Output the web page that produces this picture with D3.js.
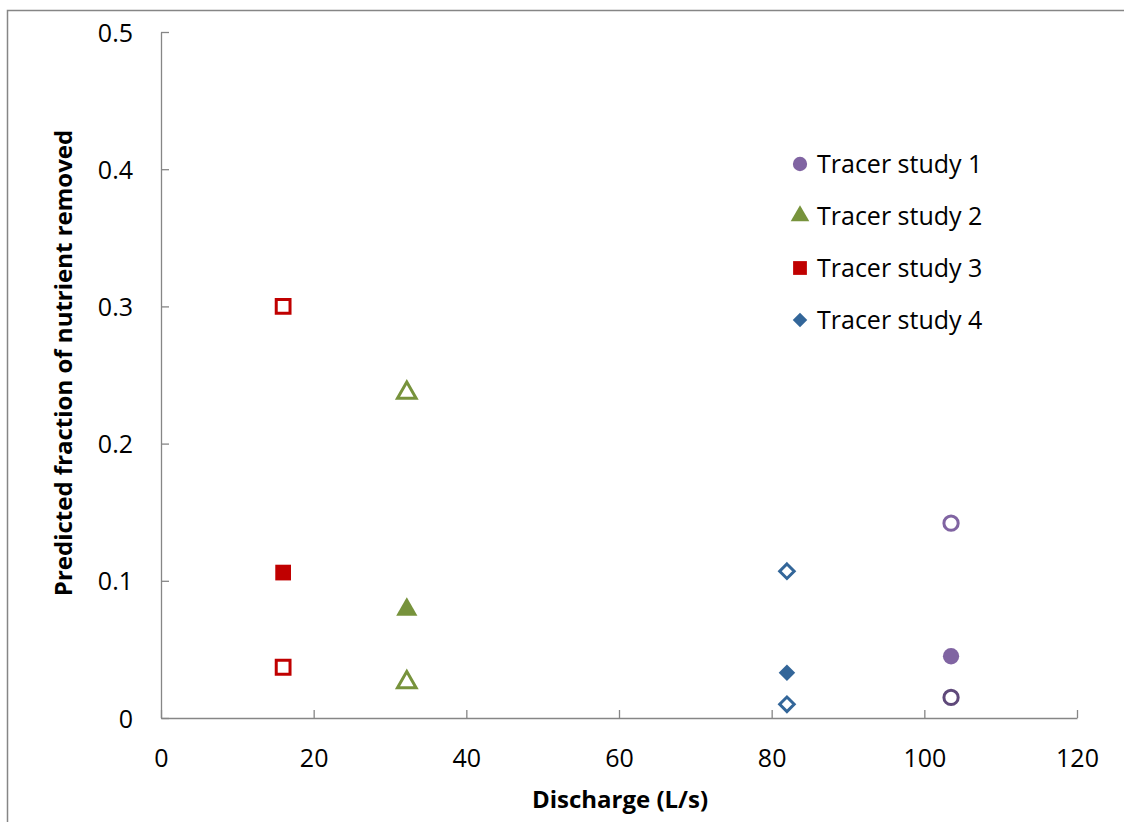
<!DOCTYPE html>
<html>
<head>
<meta charset="utf-8">
<script src="https://cdn.jsdelivr.net/npm/d3@7"></script>
<style>
  html, body { margin: 0; padding: 0; background: #fff; }
  svg { display: block; }
  text { font-family: "Open Sans", "Noto Sans", sans-serif; fill: #000; }
</style>
</head>
<body>
<svg id="chart" width="1124" height="822"></svg>
<script>
// Tracer studies: discharge (L/s) and predicted fraction removed.
// Each study has one filled estimate and two open (bounding) estimates.
const studies = ["Tracer study 1", "Tracer study 2", "Tracer study 3", "Tracer study 4"];
const discharge = [103.5, 32.2, 16.0, 82.0];
const filledValues = [0.045, 0.079, 0.106, 0.033];
const openValues = [[0.142, 0.015], [0.237, 0.026], [0.300, 0.037], [0.107, 0.010]];
const xTicks = [0, 20, 40, 60, 80, 100, 120];
const yTicks = [0, 0.1, 0.2, 0.3, 0.4, 0.5];

const colors = ["#8064A2", "#77933C", "#C00000", "#336699"];
const openLowColors = ["#5F497A", "#77933C", "#C00000", "#336699"];

// Square turned 45 degrees (diamond with equal diagonals)
const symbolRhombus = {
  draw(ctx, size) {
    const r = Math.sqrt(size / 2);
    ctx.moveTo(0, -r); ctx.lineTo(r, 0); ctx.lineTo(0, r); ctx.lineTo(-r, 0); ctx.closePath();
  }
};
const symbols = [d3.symbolCircle, d3.symbolTriangle, d3.symbolSquare, symbolRhombus];
const sizes = [160, 150, 190, 105];

const svg = d3.select("#chart");
const W = 1124, H = 822;
const plot = { left: 161, right: 1077, top: 32, bottom: 718 };

// Outer frame (left and top edges visible)
svg.append("path")
  .attr("d", `M7.5,${H} L7.5,10.5 L${W},10.5`)
  .attr("fill", "none").attr("stroke", "#868686").attr("stroke-width", 1.5);

const x = d3.scaleLinear().domain([0, 120]).range([plot.left, plot.right]);
const y = d3.scaleLinear().domain([0, 0.5]).range([plot.bottom, plot.top]);

// X axis with inward ticks
const xAxis = svg.append("g")
  .attr("transform", `translate(0,${plot.bottom})`)
  .call(d3.axisBottom(x).tickValues(xTicks).tickSizeInner(-8).tickSizeOuter(0)
    .tickFormat(d3.format("d")));
xAxis.select(".domain").attr("stroke", "#868686").attr("stroke-width", 1.3);
xAxis.selectAll(".tick line").attr("stroke", "#868686").attr("stroke-width", 1.3);
xAxis.selectAll(".tick text")
  .attr("y", 49).attr("dy", 0)
  .style("font-size", "25px").style("font-family", "'Open Sans', sans-serif");

// Y axis with inward ticks
const yAxis = svg.append("g")
  .attr("transform", `translate(${plot.left},0)`)
  .call(d3.axisLeft(y).tickValues(yTicks).tickSizeInner(-8).tickSizeOuter(0)
    .tickFormat(d => d === 0 ? "0" : d3.format(".1f")(d)));
yAxis.select(".domain").attr("stroke", "#868686").attr("stroke-width", 1.3);
yAxis.selectAll(".tick text")
  .attr("x", -28).attr("dy", "0.36em")
  .style("font-size", "25px").style("font-family", "'Open Sans', sans-serif");
yAxis.selectAll(".tick line").attr("stroke", "#868686").attr("stroke-width", 1.3);

// Axis titles
svg.append("text")
  .attr("x", 620).attr("y", 808)
  .attr("text-anchor", "middle")
  .style("font-size", "24px").style("font-weight", "bold")
  .text("Discharge (L/s)");

svg.append("text")
  .attr("transform", `translate(72,363) rotate(-90)`)
  .attr("text-anchor", "middle")
  .style("font-size", "24px").style("font-weight", "bold")
  .text("Predicted fraction of nutrient removed");

// Points
const pts = svg.append("g");
studies.forEach((s, i) => {
  const sym = d3.symbol().type(symbols[i]);
  // open markers
  openValues[i].forEach((v, j) => {
    pts.append("path")
      .attr("d", sym.size(sizes[i])())
      .attr("transform", `translate(${x(discharge[i])},${y(v)})`)
      .attr("fill", "#fff")
      .attr("stroke", j === 1 ? openLowColors[i] : colors[i])
      .attr("stroke-width", 3);
  });
  // filled marker
  pts.append("path")
    .attr("d", sym.size(sizes[i] * 1.3)())
    .attr("transform", `translate(${x(discharge[i])},${y(filledValues[i])})`)
    .attr("fill", colors[i]);
});

// Legend
const legend = svg.append("g").attr("transform", "translate(800,164)");
studies.forEach((s, i) => {
  const g = legend.append("g").attr("transform", `translate(0,${i * 52})`);
  g.append("path")
    .attr("d", d3.symbol().type(symbols[i]).size(sizes[i] * 1.0)())
    .attr("fill", colors[i]);
  g.append("text")
    .attr("x", 17).attr("dy", "0.36em")
    .style("font-size", "25px")
    .text(s);
});
</script>
</body>
</html>
